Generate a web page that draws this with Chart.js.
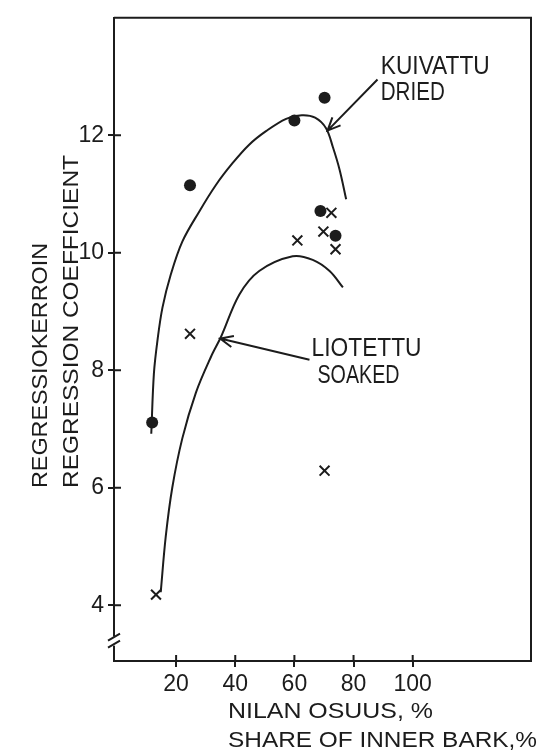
<!DOCTYPE html>
<html>
<head>
<meta charset="utf-8">
<script src="https://cdn.jsdelivr.net/npm/chart.js@4/dist/chart.umd.min.js"></script>
<style>
  html, body { margin: 0; padding: 0; background: #ffffff; }
  #wrap { width: 553px; height: 754px; }
</style>
</head>
<body>
<div id="wrap"><canvas id="c" width="553" height="754"></canvas></div>
<script>
// Axis ticks
const xTicks = [20, 40, 60, 80, 100];
const yTicks = [4, 6, 8, 10, 12];

// Measured coefficients: dried samples (filled dots)
const driedX = [11.9, 24.7, 60.0, 70.2, 68.8, 73.9];
const driedY = [7.11, 11.15, 12.25, 12.64, 10.71, 10.29];

// Measured coefficients: soaked samples (crosses)
const soakedX = [72.5, 69.8, 61.0, 73.9, 24.7, 70.2, 13.2];
const soakedY = [10.68, 10.36, 10.21, 10.06, 8.62, 6.29, 4.18];

// Hand-fitted trend curve, dried
const driedCurveX = [11.6, 12.5, 13.7, 15.4, 18.2, 22.1, 27.8, 33.4, 39.0, 44.7, 50.4, 57.2, 62.5, 67.0, 70.7, 73.0, 75.3, 77.5];
const driedCurveY = [6.92, 7.95, 8.51, 9.07, 9.63, 10.19, 10.70, 11.15, 11.52, 11.84, 12.07, 12.28, 12.34, 12.30, 12.12, 11.80, 11.41, 10.91];

// Hand-fitted trend curve, soaked
const soakedCurveX = [14.8, 16.5, 18.7, 22.1, 26.7, 31.8, 35.2, 41.4, 48.1, 59.4, 66.2, 71.9, 76.4];
const soakedCurveY = [4.22, 5.17, 6.00, 6.84, 7.62, 8.23, 8.57, 9.29, 9.69, 9.94, 9.88, 9.69, 9.41];

// Labels
const yTitleLines = ['REGRESSIOKERROIN', 'REGRESSION COEFFICIENT'];
const xTitleLines = ['NILAN OSUUS, %', 'SHARE OF INNER BARK,%'];
const driedLabel = ['KUIVATTU', 'DRIED'];
const soakedLabel = ['LIOTETTU', 'SOAKED'];

const INK = '#1c1c1c';
const FONT = '"Liberation Sans", Arial, sans-serif';

const zip = (xs, ys) => xs.map((x, i) => ({ x: x, y: ys[i] }));

// Draws a string stretched/condensed to a given width (lettering look)
function fitText(ctx, text, x, y, size, width, rot) {
  ctx.save();
  ctx.font = size + 'px ' + FONT;
  ctx.fillStyle = INK;
  ctx.textAlign = 'left';
  ctx.textBaseline = 'alphabetic';
  const w = ctx.measureText(text).width;
  ctx.translate(x, y);
  if (rot) ctx.rotate(rot);
  ctx.scale(width / w, 1);
  ctx.fillText(text, 0, 0);
  ctx.restore();
}

function arrow(ctx, x1, y1, x2, y2) {
  const a = Math.atan2(y2 - y1, x2 - x1);
  const L = 14, h = 0.42;
  ctx.beginPath();
  ctx.moveTo(x1, y1);
  ctx.lineTo(x2, y2);
  ctx.moveTo(x2 - L * Math.cos(a - h), y2 - L * Math.sin(a - h));
  ctx.lineTo(x2, y2);
  ctx.lineTo(x2 - L * Math.cos(a + h), y2 - L * Math.sin(a + h));
  ctx.stroke();
}

// Annotation placement in data units
const notes = {
  dried:  { textX: 89.2, lines: [13.05, 12.60], widths: [109, 64], from: [88.1, 12.95], to: [71.2, 12.08] },
  soaked: { textX: [65.8, 67.8], lines: [8.25, 7.78], widths: [110, 82], from: [65.1, 8.18], to: [34.9, 8.54] }
};

const decor = {
  id: 'decor',
  afterDraw(chart) {
    const ctx = chart.ctx;
    const a = chart.chartArea;
    const xs = chart.scales.x, ys = chart.scales.y;
    ctx.save();
    ctx.strokeStyle = INK;
    ctx.lineWidth = 2;
    ctx.lineCap = 'butt';

    // frame top and right
    ctx.beginPath();
    ctx.moveTo(a.left, a.top);
    ctx.lineTo(a.right, a.top);
    ctx.lineTo(a.right, a.bottom);
    ctx.stroke();

    // inner halves of the tick marks
    ctx.beginPath();
    xTicks.forEach(v => {
      const px = xs.getPixelForValue(v);
      ctx.moveTo(px, a.bottom);
      ctx.lineTo(px, a.bottom - 6);
    });
    yTicks.forEach(v => {
      const py = ys.getPixelForValue(v);
      ctx.moveTo(a.left, py);
      ctx.lineTo(a.left + 7, py);
    });
    ctx.stroke();

    // axis break near the bottom of the value axis
    const by = ys.getPixelForValue(3.38);
    ctx.fillStyle = '#ffffff';
    ctx.fillRect(a.left - 3, by - 5, 6, 9);
    ctx.beginPath();
    ctx.moveTo(a.left - 6, by - 1);
    ctx.lineTo(a.left + 6, by - 8);
    ctx.moveTo(a.left - 6, by + 6);
    ctx.lineTo(a.left + 6, by - 1);
    ctx.stroke();

    // curve labels and arrows
    const d = notes.dried;
    fitText(ctx, driedLabel[0], xs.getPixelForValue(d.textX), ys.getPixelForValue(d.lines[0]), 26, d.widths[0]);
    fitText(ctx, driedLabel[1], xs.getPixelForValue(d.textX), ys.getPixelForValue(d.lines[1]), 26, d.widths[1]);
    ctx.lineWidth = 2;
    arrow(ctx, xs.getPixelForValue(d.from[0]), ys.getPixelForValue(d.from[1]),
               xs.getPixelForValue(d.to[0]), ys.getPixelForValue(d.to[1]));

    const s = notes.soaked;
    fitText(ctx, soakedLabel[0], xs.getPixelForValue(s.textX[0]), ys.getPixelForValue(s.lines[0]), 25, s.widths[0]);
    fitText(ctx, soakedLabel[1], xs.getPixelForValue(s.textX[1]), ys.getPixelForValue(s.lines[1]), 25, s.widths[1]);
    arrow(ctx, xs.getPixelForValue(s.from[0]), ys.getPixelForValue(s.from[1]),
               xs.getPixelForValue(s.to[0]), ys.getPixelForValue(s.to[1]));

    // axis titles
    fitText(ctx, yTitleLines[0], 47, 488, 22, 245, -Math.PI / 2);
    fitText(ctx, yTitleLines[1], 78, 488, 22, 333, -Math.PI / 2);
    fitText(ctx, xTitleLines[0], 228, 718, 22, 205);
    fitText(ctx, xTitleLines[1], 228, 747, 22, 309);

    ctx.restore();
  }
};

const axisCommon = {
  type: 'linear',
  grid: { drawOnChartArea: false, drawTicks: true, tickLength: 6, color: INK, lineWidth: 2 },
  border: { display: true, color: INK, width: 2 },
  ticks: { color: INK, font: { family: FONT, size: 23 }, autoSkip: false, maxRotation: 0 }
};

new Chart(document.getElementById('c'), {
  type: 'scatter',
  data: {
    datasets: [
      {
        label: 'Kuivattu',
        data: zip(driedX, driedY),
        pointStyle: 'circle', pointRadius: 6, pointBackgroundColor: INK, pointBorderWidth: 0,
        showLine: false, order: 0
      },
      {
        label: 'Liotettu',
        data: zip(soakedX, soakedY),
        pointStyle: 'crossRot', pointRadius: 7, pointBorderColor: INK, pointBorderWidth: 2,
        showLine: false, order: 0
      },
      {
        label: 'Kuivattu, käyrä',
        data: zip(driedCurveX, driedCurveY),
        showLine: true, pointRadius: 0, borderColor: INK, borderWidth: 2,
        tension: 0.35, fill: false, order: 1
      },
      {
        label: 'Liotettu, käyrä',
        data: zip(soakedCurveX, soakedCurveY),
        showLine: true, pointRadius: 0, borderColor: INK, borderWidth: 2,
        tension: 0.35, fill: false, order: 1
      }
    ]
  },
  options: {
    responsive: false,
    animation: false,
    devicePixelRatio: 1,
    layout: { padding: { top: 6, right: 22, left: 0, bottom: 0 } },
    plugins: { legend: { display: false }, tooltip: { enabled: false } },
    scales: {
      x: Object.assign({}, axisCommon, {
        min: -1, max: 140,
        afterBuildTicks: sc => { sc.ticks = xTicks.map(v => ({ value: v })); },
        afterFit: sc => { sc.height = 93; },
        ticks: Object.assign({}, axisCommon.ticks, { padding: 4 })
      }),
      y: Object.assign({}, axisCommon, {
        min: 3.05, max: 14,
        afterBuildTicks: sc => { sc.ticks = yTicks.map(v => ({ value: v })); },
        afterFit: sc => { sc.width = 114; },
        ticks: Object.assign({}, axisCommon.ticks, { padding: 4 })
      })
    }
  },
  plugins: [decor]
});
</script>
</body>
</html>
